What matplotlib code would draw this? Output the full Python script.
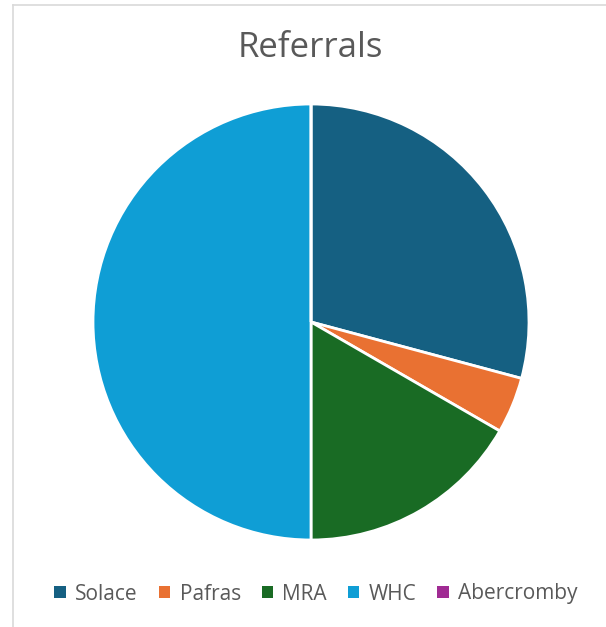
import matplotlib
matplotlib.use("Agg")
import matplotlib.pyplot as plt
from matplotlib.patches import Patch
from matplotlib.lines import Line2D

categories = ["Solace", "Pafras", "MRA", "WHC", "Abercromby"]
values = [7, 1, 4, 12, 0]
colors = ["#156082", "#E97132", "#196B24", "#0F9ED5", "#A02B93"]
title = "Referrals"

plt.rcParams['font.family'] = ['Open Sans', 'DejaVu Sans']

W, H = 606, 627
fig = plt.figure(figsize=(W / 100, H / 100), dpi=100)
fig.patch.set_facecolor("white")

# chart border (left and top visible)
fig.add_artist(Line2D([13 / W, 13 / W], [0, 1 - 5 / H], transform=fig.transFigure,
                      color="#D9D9D9", lw=1.2))
fig.add_artist(Line2D([13 / W, 1], [1 - 5 / H, 1 - 5 / H], transform=fig.transFigure,
                      color="#D9D9D9", lw=1.2))

cx, cy, r = 311, 322, 218
ax = fig.add_axes([(cx - r) / W, (H - cy - r) / H, 2 * r / W, 2 * r / H])
ax.pie(values, colors=colors, startangle=90, counterclock=False, radius=1,
       wedgeprops=dict(edgecolor="white", linewidth=2.0))
ax.set_xlim(-1.0, 1.0)
ax.set_ylim(-1.0, 1.0)
ax.set_aspect("auto")
ax.axis("off")

fig.text(310 / W, 1 - 48 / H, title, ha="center", va="center", fontsize=25, color="#595959")

handles = [Patch(facecolor=c, edgecolor="none") for c in colors]
fig.legend(handles, categories, loc="center", bbox_to_anchor=(316 / W, 1 - 594 / H),
           ncol=5, frameon=False, fontsize=15, handlelength=0.55, handleheight=0.55,
           handletextpad=0.45, columnspacing=1.0, labelcolor="#595959")

fig.savefig("out.png", dpi=100, facecolor="white")
